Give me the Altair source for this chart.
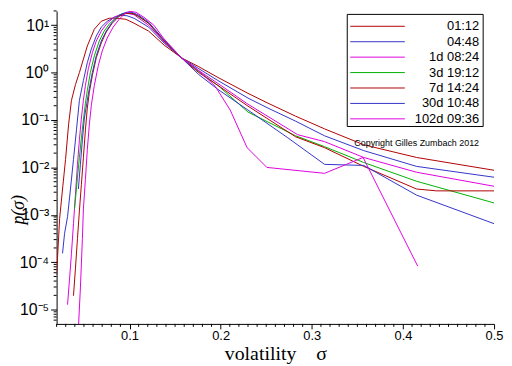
import altair as alt
import pandas as pd

labels = ["01:12", "04:48", "1d 08:24", "3d 19:12", "7d 14:24", "30d 10:48", "102d 09:36"]
colors = ["#b00000", "#3434c8", "#e000e0", "#00b000", "#b00000", "#3434c8", "#e000e0"]

sig01 = [0.020, 0.0233, 0.0265, 0.0298, 0.0331, 0.0363, 0.0407, 0.045, 0.0537, 0.0614, 0.069, 0.0777, 0.0864, 0.096, 0.105, 0.121, 0.138, 0.157, 0.176, 0.197, 0.230, 0.252, 0.282, 0.314, 0.357, 0.415, 0.500]
p01 = [5.4e-5, 8.3e-4, 3.5e-3, 0.0147, 0.079, 0.26, 0.56, 1.0, 3.65, 8.25, 12.1, 14.0, 14.0, 13.3, 11.0, 7.5, 3.8, 2.05, 1.33, 0.79, 0.365, 0.226, 0.121, 0.065, 0.030, 0.0162, 0.0087]

sig04 = [0.0265, 0.0287, 0.032, 0.0352, 0.0385, 0.0418, 0.045, 0.0494, 0.0537, 0.0581, 0.0635, 0.069, 0.0755, 0.0831, 0.0907, 0.0973, 0.105, 0.121, 0.138, 0.157, 0.176, 0.197, 0.230, 0.252, 0.282, 0.314, 0.357, 0.415, 0.500]
p04 = [1.54e-4, 4.0e-4, 9.1e-4, 3.5e-3, 0.0147, 0.062, 0.26, 0.68, 1.62, 3.16, 5.9, 9.1, 12.1, 14.7, 16.2, 15.8, 14.0, 9.1, 4.2, 2.05, 1.21, 0.68, 0.29, 0.178, 0.095, 0.0464, 0.0226, 0.0105, 0.0062]

sig1d = [0.032, 0.0341, 0.0363, 0.0385, 0.0407, 0.0429, 0.045, 0.0472, 0.0494, 0.0516, 0.0548, 0.0592, 0.0635, 0.069, 0.0755, 0.0831, 0.0907, 0.0973, 0.105, 0.121, 0.138, 0.157, 0.176, 0.197, 0.230, 0.2845, 0.314, 0.357, 0.415, 0.500]
p1d = [1.27e-5, 4.2e-5, 1.54e-4, 6.5e-4, 2.74e-3, 0.0116, 0.0383, 0.110, 0.261, 0.536, 1.21, 2.61, 4.64, 7.5, 11.0, 14.7, 17.0, 17.8, 16.6, 10.0, 4.42, 2.05, 1.10, 0.59, 0.215, 0.049, 0.035, 0.0162, 0.0079, 0.0040]

sig3d = [0.0396, 0.0407, 0.0429, 0.045, 0.0472, 0.0494, 0.0516, 0.0537, 0.057, 0.0614, 0.0668, 0.0722, 0.0777, 0.0842, 0.0907, 0.0973, 0.105, 0.121, 0.138, 0.157, 0.176, 0.197, 0.230, 0.2823, 0.314, 0.357, 0.415, 0.500]
p3d = [1.33e-3, 2.15e-3, 6.2e-3, 0.0162, 0.0422, 0.1, 0.226, 0.422, 1.0, 2.26, 4.64, 7.5, 10.5, 14.0, 16.95, 18.2, 17.4, 11.0, 4.64, 2.05, 1.05, 0.536, 0.147, 0.0464, 0.0274, 0.0127, 0.0051, 0.00178]

sig7d = [0.0385, 0.0407, 0.0429, 0.045, 0.0472, 0.0494, 0.0516, 0.0537, 0.0559, 0.0592, 0.0635, 0.069, 0.0744, 0.081, 0.0886, 0.0962, 0.1027, 0.1103, 0.121, 0.138, 0.157, 0.176, 0.197, 0.230, 0.2823, 0.314, 0.357, 0.415, 0.437, 0.500]
p7d = [1.96e-5, 7.5e-5, 3.16e-4, 1.21e-3, 4.4e-3, 0.0162, 0.062, 0.178, 0.383, 0.866, 2.05, 4.22, 7.15, 11.0, 15.4, 17.8, 17.8, 15.4, 11.0, 4.64, 2.05, 1.0, 0.536, 0.196, 0.0442, 0.0261, 0.0105, 0.0035, 0.0032, 0.0032]

sig30d = [0.0439, 0.0461, 0.0483, 0.0505, 0.0537, 0.0559, 0.0592, 0.0635, 0.069, 0.0744, 0.081, 0.0886, 0.0962, 0.1027, 0.1103, 0.121, 0.138, 0.157, 0.176, 0.197, 0.230, 0.2736, 0.314, 0.357, 0.415, 0.500]
p30d = [3.5e-3, 0.0116, 0.0383, 0.110, 0.261, 0.464, 1.0, 2.26, 4.64, 7.5, 11.55, 16.2, 18.7, 18.7, 16.2, 11.55, 4.87, 2.05, 0.909, 0.442, 0.162, 0.0422, 0.0116, 0.011, 0.0026, 0.00065]

sig102d = [0.0439, 0.0461, 0.0483, 0.0494, 0.0516, 0.0537, 0.0559, 0.0581, 0.0614, 0.0657, 0.0701, 0.0755, 0.082, 0.0886, 0.0951, 0.1005, 0.1071, 0.1158, 0.1267, 0.138, 0.157, 0.176, 0.1941, 0.2105, 0.229, 0.2507, 0.314, 0.3563, 0.4162]
p102d = [4.0e-6, 2.87e-5, 3.16e-4, 1.33e-3, 5.6e-3, 0.0237, 0.0787, 0.205, 0.536, 1.40, 2.87, 5.36, 9.1, 13.3, 17.8, 19.6, 18.7, 14.7, 10.0, 5.11, 2.05, 1.10, 0.511, 0.162, 0.0261, 0.01, 0.0075, 0.0162, 8.25e-5]

x_major = [0.1, 0.2, 0.3, 0.4, 0.5]
x_minor = [round(0.02 + 0.01 * i, 2) for i in range(49) if (2 + i) % 10 != 0]
y_major = [1e-5, 1e-4, 1e-3, 1e-2, 1e-1, 1.0, 10.0]
y_minor = [k * 10.0 ** e for e in range(-6, 2) for k in range(2, 10) if 5e-6 <= k * 10.0 ** e <= 20]
copyright_text = "Copyright Gilles Zumbach 2012"

all_sig = [sig01, sig04, sig1d, sig3d, sig7d, sig30d, sig102d]
all_p = [p01, p04, p1d, p3d, p7d, p30d, p102d]
rows = []
for lab, ss, pp in zip(labels, all_sig, all_p):
    for i, (s, p) in enumerate(zip(ss, pp)):
        rows.append({"series": lab, "sigma": s, "p": p, "idx": i})
df = pd.DataFrame(rows)

W, H = 441, 315.5
x_scale = alt.Scale(domain=[0.02, 0.5], nice=False, zero=False)
y_scale = alt.Scale(type="log", domain=[5e-6, 20], nice=False)
color_scale = alt.Scale(domain=labels, range=colors)

yexp = "round(log(datum.value)/LN10)"
sup = {1: "10\u00b9", 0: "10\u2070", -1: "10\u207b\u00b9", -2: "10\u207b\u00b2",
       -3: "10\u207b\u00b3", -4: "10\u207b\u2074", -5: "10\u207b\u2075"}
ylab = "(" + " : ".join(f"{yexp} == {k} ? '{v}'" for k, v in sup.items()) + " : '')"

x_axis = alt.Axis(
    values=x_major, format=".1f", tickSize=5, labelOverlap=False, labelFlush=False, grid=False,
    labelFont="Liberation Sans", labelFontSize=13, labelColor="black",
    domainColor="black", tickColor="black", labelPadding=1,
    title="volatility\u00a0\u00a0\u00a0\u00a0\u03c3", titleFont="Liberation Serif", titleFontSize=20,
    titleFontWeight="normal", titleColor="black", titlePadding=1,
)
y_axis = alt.Axis(
    values=y_major, labelExpr=ylab, tickSize=6, labelOverlap=False, labelFlush=False, grid=False,
    labelFont="Liberation Sans", labelFontSize=16, labelColor="black",
    domainColor="black", tickColor="black", labelPadding=2,
    title="p(\u03c3)", titleFont="Liberation Serif", titleFontStyle="italic",
    titleFontSize=18, titleFontWeight="normal", titleColor="black",
    titleX=-38, titleY=200, titleAlign="center", titleBaseline="middle", titleAngle=-90,
)

lines = alt.Chart(df).mark_line(strokeWidth=1, clip=True).encode(
    x=alt.X("sigma:Q", scale=x_scale, axis=x_axis),
    y=alt.Y("p:Q", scale=y_scale, axis=y_axis),
    color=alt.Color("series:N", scale=color_scale, legend=None),
    order=alt.Order("idx:Q"),
)

xminor_df = pd.DataFrame({"v": x_minor})
xminor = alt.Chart(xminor_df).mark_rule(color="black", strokeWidth=1).encode(
    x=alt.X("v:Q", scale=x_scale, axis=None),
    y=alt.value(H), y2=alt.value(H + 3),
)
yminor_df = pd.DataFrame({"v": y_minor})
yminor = alt.Chart(yminor_df).mark_rule(color="black", strokeWidth=1).encode(
    y=alt.Y("v:Q", scale=y_scale, axis=None),
    x=alt.value(-3), x2=alt.value(0),
)

leg_df = pd.DataFrame({"series": labels})
leg_box = alt.Chart(leg_df.head(1)).mark_rect(fill="white", stroke="black", strokeWidth=1).encode(
    x=alt.value(293), x2=alt.value(430), y=alt.value(3.5), y2=alt.value(116.5),
)
leg_y = alt.Y("series:N", sort=labels,
              scale=alt.Scale(type="point", domain=labels, range=[15.5, 108.8], padding=0),
              axis=None)
leg_lines = alt.Chart(leg_df).mark_rule(strokeWidth=1).encode(
    x=alt.value(296), x2=alt.value(351), y=leg_y,
    color=alt.Color("series:N", scale=color_scale, legend=None),
)
leg_text = alt.Chart(leg_df).mark_text(font="Liberation Sans", fontSize=13, color="black",
                                       align="right", baseline="middle").encode(
    x=alt.value(426), y=leg_y, text="series:N",
)

note = pd.DataFrame({"txt": [copyright_text]})
copy_txt = alt.Chart(note).mark_text(font="Liberation Sans", fontSize=9, color="black",
                                     align="center", baseline="middle").encode(
    x=alt.value(363), y=alt.value(133.5), text="txt:N")

chart = alt.layer(lines, xminor, yminor, leg_box, leg_lines, leg_text, copy_txt).resolve_scale(
    x="independent", y="independent"
).properties(
    width=W, height=H,
    autosize=alt.AutoSizeParams(type="none"),
    padding={"left": 49, "top": 1.5, "right": 10, "bottom": 41},
).configure_view(strokeWidth=0)

chart.save("out.html", embed_options={"renderer": "svg", "actions": False})
